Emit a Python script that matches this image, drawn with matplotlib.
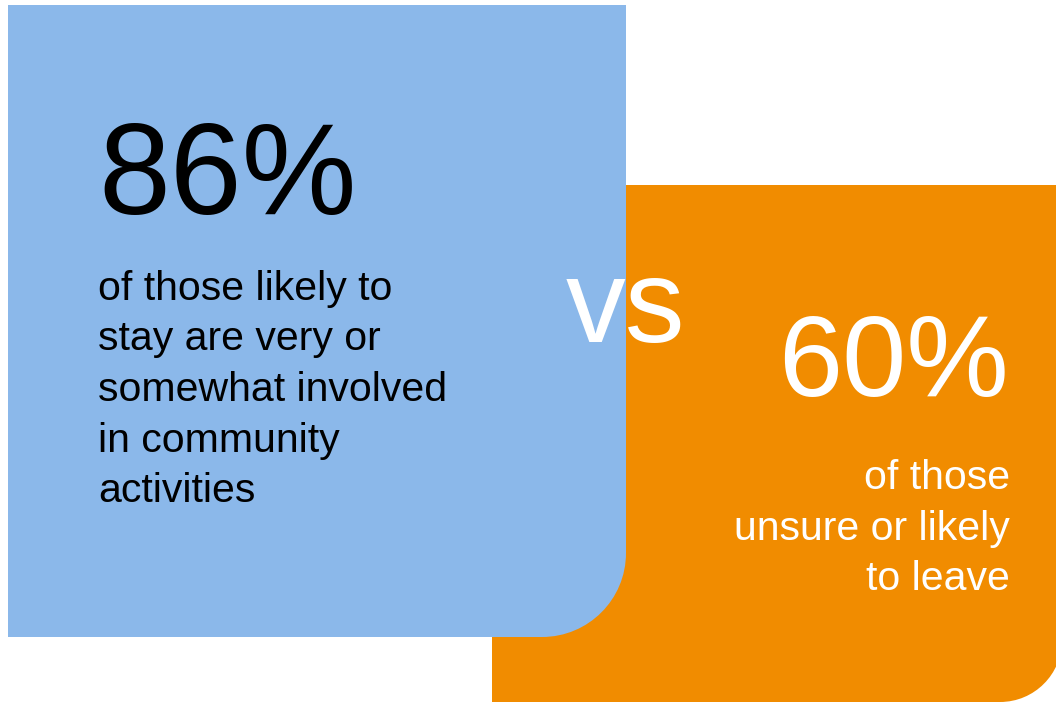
import matplotlib.pyplot as plt
from matplotlib.patches import PathPatch
from matplotlib.path import Path

# headline figures and their captions
shares = [86, 60]
captions = [
    ["of those likely to", "stay are very or", "somewhat involved",
     "in community", "activities"],
    ["of those", "unsure or likely", "to leave"],
]
box_colors = ["#8BB8EA", "#F18C00"]
text_colors = ["black", "white"]

plt.rcParams["font.family"] = ["Liberation Sans", "DejaVu Sans"]


def corner_box(x0, y0, x1, y1, r):
    # rectangle with only the lower-right corner rounded (y grows downward)
    k = 0.5523 * r
    verts = [
        (x0, y0), (x1, y0), (x1, y1 - r),
        (x1, y1 - r + k), (x1 - r + k, y1), (x1 - r, y1),
        (x0, y1), (x0, y0),
    ]
    codes = [Path.MOVETO, Path.LINETO, Path.LINETO,
             Path.CURVE4, Path.CURVE4, Path.CURVE4,
             Path.LINETO, Path.CLOSEPOLY]
    return Path(verts, codes)


fig = plt.figure(figsize=(10.56, 7.02), dpi=100)
ax = fig.add_axes([0, 0, 1, 1])
ax.set_xlim(0, 1056)
ax.set_ylim(702, 0)
ax.axis("off")

# orange panel sits behind the blue one
ax.add_patch(PathPatch(corner_box(492, 185, 1062, 702, 62),
                       facecolor=box_colors[1], edgecolor="none"))
ax.add_patch(PathPatch(corner_box(8, 5, 626, 637, 84),
                       facecolor=box_colors[0], edgecolor="none"))

ax.text(98, 214, f"{shares[0]}%", fontsize=93, color=text_colors[0],
        ha="left", va="baseline")
for i, line in enumerate(captions[0]):
    ax.text(98, 300 + i * 50.5, line, fontsize=29.5, color=text_colors[0],
            ha="left", va="baseline")

ax.text(625, 342, "vs", fontsize=86, color="white",
        ha="center", va="baseline")

ax.text(1009, 396, f"{shares[1]}%", fontsize=83, color=text_colors[1],
        ha="right", va="baseline")
for i, line in enumerate(captions[1]):
    ax.text(1010, 489 + i * 50.5, line, fontsize=29.5, color=text_colors[1],
            ha="right", va="baseline")

fig.savefig("out.png", dpi=100)
